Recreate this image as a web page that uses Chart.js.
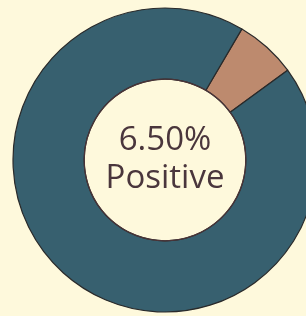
<!DOCTYPE html>
<html>
<head>
<meta charset="utf-8">
<script src="https://cdn.jsdelivr.net/npm/chart.js@4"></script>
<style>
  html, body { margin: 0; padding: 0; width: 306px; height: 316px; overflow: hidden; background: #fef9dc; }
  #wrap { position: absolute; left: 12px; top: 7px; width: 306px; height: 306px; }
</style>
</head>
<body>
<div id="wrap"><canvas id="myChart"></canvas></div>
<script>
const labels = ['Positive', 'Negative'];
const values = [6.5, 93.5];
const colors = ['#bd8a6e', '#37606f'];
const centerLines = ['6.50%', 'Positive'];

const centerText = {
    id: 'centerText',
    afterDatasetsDraw(chart) {
        const meta = chart.getDatasetMeta(0);
        const arc = meta.data[0];
        const ctx = chart.ctx;
        ctx.save();
        ctx.beginPath();
        ctx.arc(arc.x, arc.y, arc.innerRadius, 0, Math.PI * 2);
        ctx.lineWidth = 1.2;
        ctx.strokeStyle = '#4a3438';
        ctx.stroke();
        ctx.fillStyle = '#4a363c';
        ctx.font = '33px "Open Sans"';
        ctx.textAlign = 'center';
        ctx.textBaseline = 'alphabetic';
        ctx.fillText(centerLines[0], arc.x, arc.y - 10);
        ctx.fillText(centerLines[1], arc.x, arc.y + 28);
        ctx.restore();
    }
};

new Chart(document.getElementById('myChart'), {
    type: 'doughnut',
    data: {
        labels: labels,
        datasets: [{
            data: values,
            backgroundColor: colors,
            borderColor: '#2a2a2a',
            borderWidth: 1.2
        }]
    },
    options: {
        responsive: true,
        maintainAspectRatio: false,
        animation: false,
        rotation: 30.4,
        radius: 152,
        cutout: 81,
        layout: { padding: 0 },
        plugins: {
            legend: { display: false },
            tooltip: { enabled: false }
        }
    },
    plugins: [centerText]
});
</script>
</body>
</html>
